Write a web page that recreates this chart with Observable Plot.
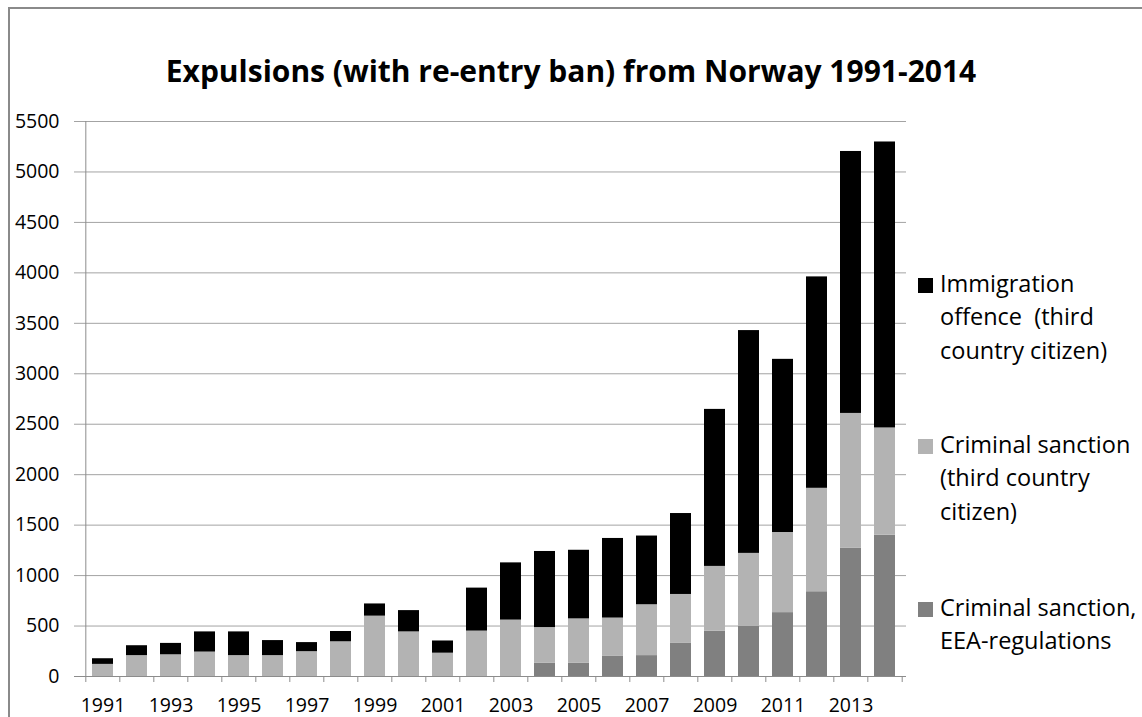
<!DOCTYPE html>
<html>
<head>
<meta charset="utf-8">
<script src="https://cdn.jsdelivr.net/npm/d3@7"></script>
<script src="https://cdn.jsdelivr.net/npm/@observablehq/plot@0.6"></script>
<style>
  html, body { margin: 0; padding: 0; background: #fff; }
  #wrap { position: relative; width: 1142px; height: 717px; overflow: hidden; background: #fff; }
  #frame { position: absolute; left: 8px; top: 7px; right: -10px; bottom: -10px; border-left: 2px solid #8a8a8a; border-top: 2px solid #8a8a8a; }
  #title { position: absolute; left: 0; width: 1142px; top: 51px; line-height: 40px; text-align: center;
           font-family: "Open Sans", Lato, sans-serif; font-weight: bold; font-size: 30px; color: #000; }
  #chart { position: absolute; left: 0; top: 0; }
  .leg { position: absolute; left: 918px; font-family: "Open Sans", Lato, sans-serif; font-size: 23.5px; line-height: 33.3px; color: #000; }
  .leg .sw { position: absolute; left: 0; width: 15px; height: 15px; }
  .leg .tx { position: absolute; left: 22px; white-space: nowrap; }
</style>
</head>
<body>
<div id="wrap">
  <div id="frame"></div>
  <div id="chart"></div>
  <div id="title"></div>
  <div id="legend"></div>
</div>
<script>
// ---- data ----
const years = [1991,1992,1993,1994,1995,1996,1997,1998,1999,2000,2001,2002,2003,2004,2005,2006,2007,2008,2009,2010,2011,2012,2013,2014];
const eeaRegulations   = [0,0,0,0,0,0,0,0,0,0,0,0,0,133,133,199,207,328,450,496,633,840,1270,1400];
const criminalThird    = [120,207,215,242,207,207,246,344,598,442,231,450,559,352,438,380,504,485,641,724,794,1025,1337,1063];
const immigrationThird = [56,98,113,200,235,149,90,102,121,211,121,426,567,754,680,789,681,802,1556,2208,1716,2095,2596,2834];
const seriesNames = [
  "Criminal sanction, EEA-regulations",
  "Criminal sanction (third country citizen)",
  "Immigration offence  (third country citizen)"
];
const seriesColors = ["#808080", "#b3b3b3", "#000000"];
const legendLines = [
  ["Immigration", "offence  (third", "country citizen)"],
  ["Criminal sanction", "(third country", "citizen)"],
  ["Criminal sanction,", "EEA-regulations"]
];
const titleText = "Expulsions (with re-entry ban) from Norway 1991-2014";
const yTicks = d3.range(0, 5501, 500);
const xTickLabels = years.filter((d, i) => i % 2 === 0);

// ---- table ----
const valuesBySeries = [eeaRegulations, criminalThird, immigrationThird];
const table = [];
seriesNames.forEach((s, si) => years.forEach((y, i) => table.push({year: y, series: s, value: valuesBySeries[si][i]})));

// ---- layout ----
const W = 1142, H = 717, mL = 81, mR = 236, mT = 121, mB = 41;
const step = (W - mL - mR) / years.length;
const axisGrey = "#8c8c8c";
const tickFont = {fontFamily: "Open Sans, sans-serif", fontSize: 19.5, fill: "#000"};

const plot = Plot.plot({
  width: W, height: H,
  marginLeft: mL, marginRight: mR, marginTop: mT, marginBottom: mB,
  style: {fontFamily: "Open Sans, sans-serif", fontSize: "19.5px", color: "#000", background: "transparent"},
  x: {type: "band", domain: years, paddingInner: 0.37, paddingOuter: 0.185, label: null},
  y: {domain: [0, 5500], label: null},
  color: {domain: seriesNames, range: seriesColors},
  marks: [
    Plot.ruleY(yTicks, {y: d => d, stroke: "#a3a3a3", strokeWidth: 1, insetLeft: -7}),
    Plot.ruleY([0], {stroke: axisGrey, strokeWidth: 1, insetLeft: -7}),
    Plot.barY(table, Plot.stackY({x: "year", y: "value", fill: "series", order: seriesNames})),
    Plot.ruleX([years[0]], {x: d => d, y1: 0, y2: yTicks[yTicks.length - 1], dx: -step / 2, stroke: axisGrey}),
    Plot.ruleX(years, {x: d => d, y1: 0, y2: 0, insetBottom: -6, dx: -step / 2, stroke: axisGrey}),
    Plot.ruleX([years[years.length - 1]], {x: d => d, y1: 0, y2: 0, insetBottom: -6, dx: step / 2, stroke: axisGrey}),
    Plot.axisY({ticks: yTicks, tickSize: 0, tickPadding: 22, label: null, tickFormat: d => String(d), ...tickFont}),
    Plot.axisX({ticks: xTickLabels, tickSize: 0, tickPadding: 22, label: null, tickFormat: d => String(d), ...tickFont})
  ]
});
document.getElementById("chart").appendChild(plot);
document.getElementById("title").textContent = titleText;

// ---- legend (HTML) ----
const legendTops = [267, 428, 591];
const leg = document.getElementById("legend");
[2, 1, 0].forEach((si, k) => {
  const div = document.createElement("div");
  div.className = "leg";
  div.style.top = legendTops[k] + "px";
  const sw = document.createElement("div");
  sw.className = "sw";
  sw.style.background = seriesColors[si];
  sw.style.top = "11px";
  div.appendChild(sw);
  const tx = document.createElement("div");
  tx.className = "tx";
  tx.innerHTML = legendLines[k].map(t => t.replace(/  /g, "&nbsp; ")).join("<br>");
  div.appendChild(tx);
  leg.appendChild(div);
});
</script>
</body>
</html>
